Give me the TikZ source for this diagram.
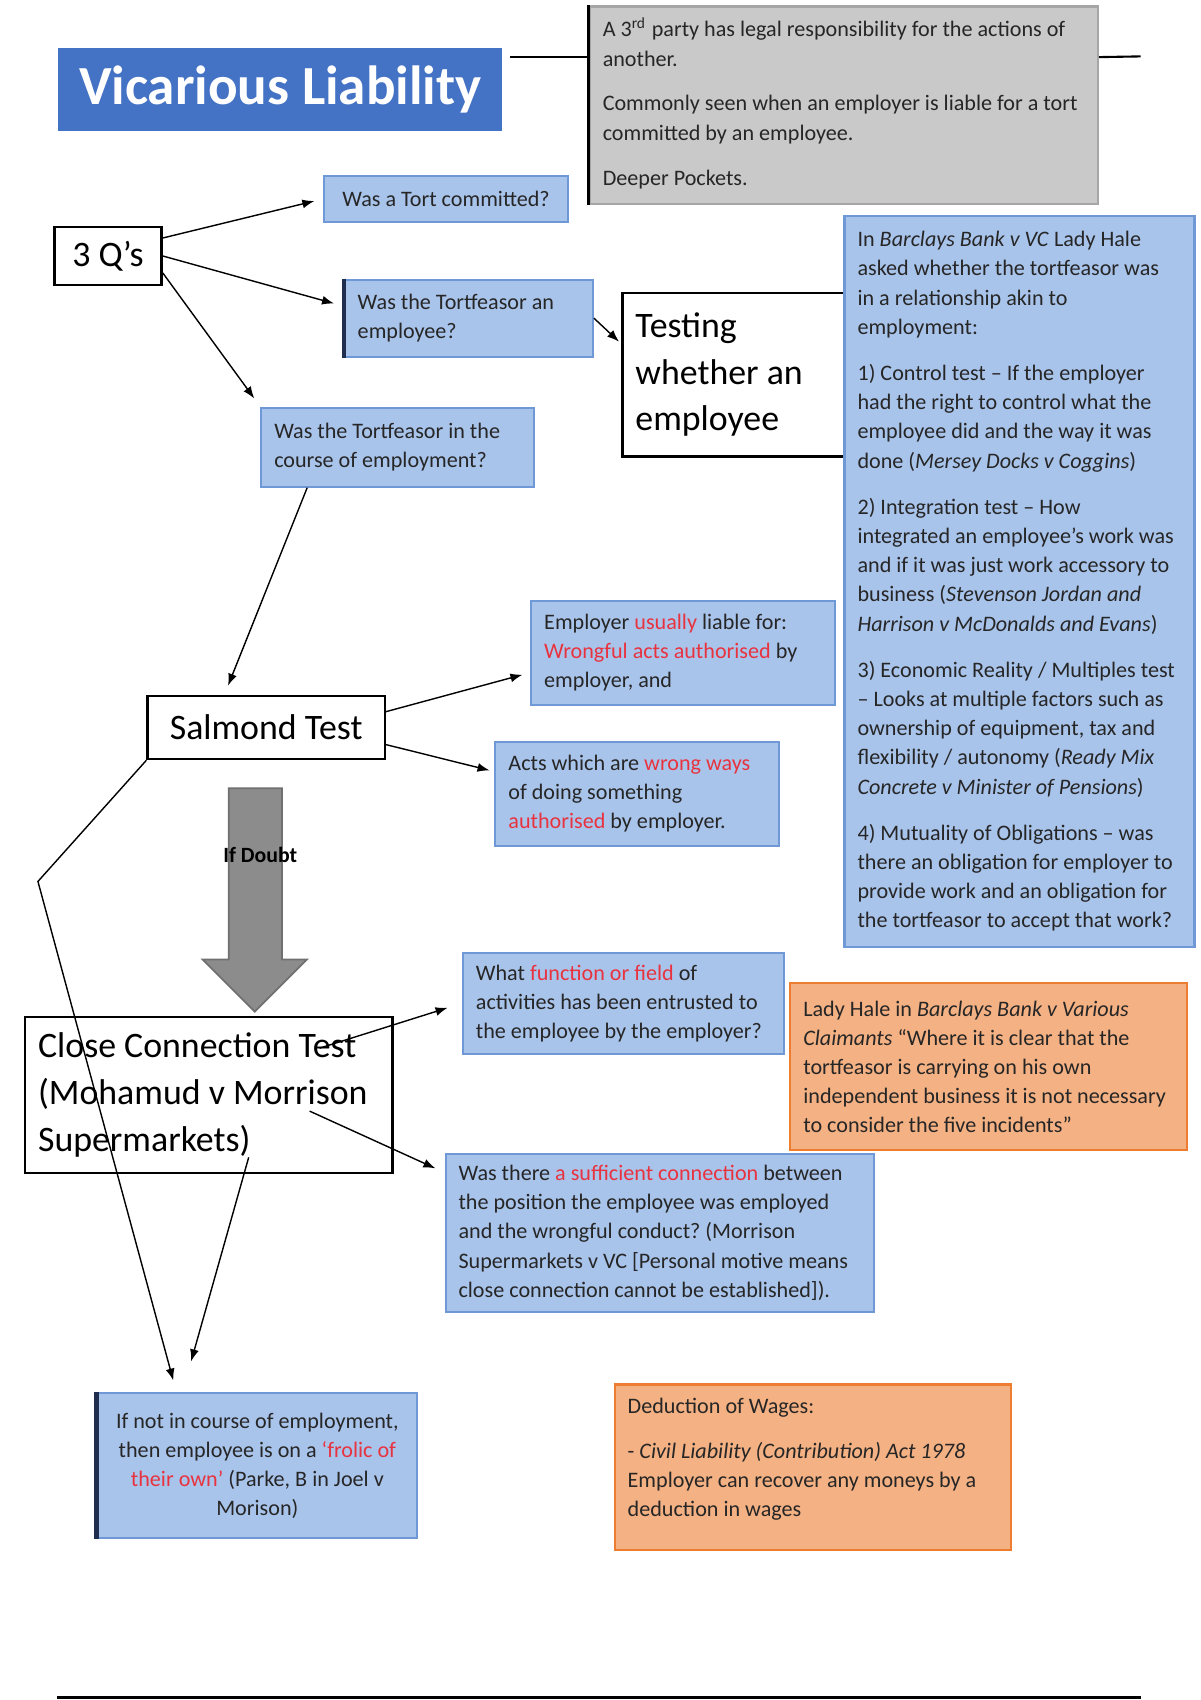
\documentclass[tikz,border=0pt]{standalone}
\usepackage{fontspec}
\setmainfont{Carlito}
\frenchspacing
\usetikzlibrary{arrows.meta}
\definecolor{titleblue}{HTML}{4472C4}
\definecolor{boxblue}{HTML}{A9C4EB}
\definecolor{boxblueline}{HTML}{6F98D6}
\definecolor{boxgrey}{HTML}{C9C9C9}
\definecolor{boxgreyline}{HTML}{A6A6A6}
\definecolor{boxorange}{HTML}{F4B183}
\definecolor{boxorangeline}{HTML}{ED7D31}
\definecolor{edgenavy}{HTML}{1F2D4F}
\definecolor{hlred}{HTML}{E8333F}
\definecolor{arrowgrey}{HTML}{8C8C8C}
\newcommand{\redtxt}[1]{\textcolor{hlred}{#1}}
\begin{document}
\begin{tikzpicture}[x=0.010842cm,y=-0.010842cm,
      smalltxt/.style={font=\fontsize{6.3}{8.3}\selectfont,text=black!85},
      bigtxt/.style={font=\fontsize{10.2}{13.3}\selectfont},
      bluebox/.style={smalltxt,anchor=north west,draw=boxblueline,fill=boxblue,
        line width=0.6pt,inner xsep=0.13cm,align=flush left},
      greybox/.style={smalltxt,anchor=north west,draw=boxgreyline,fill=boxgrey,
        line width=0.6pt,inner xsep=0.13cm,align=flush left},
      orangebox/.style={smalltxt,anchor=north west,draw=boxorangeline,fill=boxorange,
        line width=0.6pt,inner xsep=0.13cm,align=flush left},
      plainbox/.style={bigtxt,anchor=north west,draw,fill=white,
        line width=0.7pt,inner xsep=0.13cm,align=flush left},
      arr/.style={-{Latex[length=1.2mm,width=0.9mm]},line width=0.4pt}]
      \useasboundingbox (0,0) rectangle (1107,1568);
      \path (53,44) node[anchor=north west,fill=titleblue,minimum width=4.445cm,
        minimum height=0.824cm,text=white,
        font=\fontsize{15.7}{19}\selectfont\bfseries] (title) {Vicarious Liability};
      \path (543,5) node[greybox,text width=4.825cm,minimum height=1.973cm] (grey)
        {A 3\smash{\textsuperscript{rd}} party has legal responsibility for the actions of\\
        another.\\[4.5pt]
        Commonly seen when an employer is liable for a tort\\
        committed by an employee.\\[4.5pt]
        Deeper Pockets.};
      \draw[line width=1pt] (grey.north west) -- (grey.south west);
      \path ([xshift=0.07cm,yshift=0.325cm]title.east) coordinate (tl);
      \path (1052,52) coordinate (tr);
      \draw[line width=0.6pt] (tl) -- (tl -| grey.west);
      \draw[line width=0.6pt] (tl -| grey.east) -- (tr);
      \path (298,161) node[bluebox,minimum width=2.439cm,minimum height=0.466cm] (tort)
        {Was a Tort committed?};
      \path (49,208) node[plainbox,minimum width=1.073cm,minimum height=0.585cm] (q3)
        {3 Q’s};
      \path (317,257) node[bluebox,text width=2.223cm,minimum height=0.770cm] (empq)
        {Was the Tortfeasor an\\ employee?};
      \draw[edgenavy,line width=1.2pt] (empq.north west) -- (empq.south west);
      \path (573,269) node[plainbox,text width=1.963cm,minimum height=1.637cm] (testing)
        {Testing\\ whether an\\ employee};
      \path (778,198) node[bluebox,text width=3.242cm,minimum height=7.318cm] (hale)
        {In \textit{Barclays Bank v VC} Lady Hale\\
        asked whether the tortfeasor was\\
        in a relationship akin to\\
        employment:\\[4.9pt]
        1) Control test – If the employer\\
        had the right to control what the\\
        employee did and the way it was\\
        done (\textit{Mersey Docks v Coggins})\\[4.9pt]
        2) Integration test – How\\
        integrated an employee’s work was\\
        and if it was just work accessory to\\
        business (\textit{Stevenson Jordan and}\\
        \textit{Harrison v McDonalds and Evans})\\[4.9pt]
        3) Economic Reality / Multiples test\\
        – Looks at multiple factors such as\\
        ownership of equipment, tax and\\
        flexibility / autonomy (\textit{Ready Mix}\\
        \textit{Concrete v Minister of Pensions})\\[4.9pt]
        4) Mutuality of Obligations – was\\
        there an obligation for employer to\\
        provide work and an obligation for\\
        the tortfeasor to accept that work?};
      \path (240,375) node[bluebox,text width=2.472cm,minimum height=0.791cm] (course)
        {Was the Tortfeasor in the\\ course of employment?};
      \path (135,641) node[plainbox,minimum width=2.374cm,minimum height=0.629cm] (salmond)
        {Salmond Test};
      \path (489,553) node[bluebox,text width=2.776cm,minimum height=1.041cm] (usually)
        {Employer \redtxt{usually} liable for:\\
        \redtxt{Wrongful acts authorised} by\\
        employer, and};
      \path (456,683) node[bluebox,text width=2.581cm,minimum height=1.041cm] (wrong)
        {Acts which are \redtxt{wrong ways}\\
        of doing something\\
        \redtxt{authorised} by employer.};
      \draw[draw=arrowgrey!80!black,fill=arrowgrey,line width=0.5pt]
        (211,727) -- (260,727) -- (260,885) -- (283,885) -- (235,933)
        -- (187,885) -- (211,885) -- cycle;
      \path (240,789) node[font=\fontsize{6.2}{7}\selectfont\bfseries] (doubt) {If Doubt};
      \path (426,878) node[bluebox,text width=2.949cm,minimum height=0.976cm] (func)
        {What \redtxt{function or field} of\\
        activities has been entrusted to\\
        the employee by the employer?};
      \path (728,906) node[orangebox,text width=3.708cm,minimum height=1.670cm] (ladyhale)
        {Lady Hale in \textit{Barclays Bank v Various}\\
        \textit{Claimants} “Where it is clear that the\\
        tortfeasor is carrying on his own\\
        independent business it is not necessary\\
        to consider the five incidents”};
      \path (22,937) node[plainbox,text width=3.415cm,minimum height=1.561cm] (close)
        {Close Connection Test\\ (Mohamud v Morrison\\ Supermarkets)};
      \path (410,1063) node[bluebox,text width=4.023cm,minimum height=1.561cm] (suff)
        {Was there \redtxt{a sufficient connection} between\\
        the position the employee was employed\\
        and the wrongful conduct? (Morrison\\
        Supermarkets v VC [Personal motive means\\
        close connection cannot be established]).};
      \path (89,1284) node[bluebox,align=flush center,text width=2.938cm,minimum height=1.453cm] (frolic)
        {If not in course of employment,\\
        then employee is on a \redtxt{‘frolic of}\\
        \redtxt{their own’} (Parke, B in Joel v\\
        Morison)};
      \draw[edgenavy,line width=1.2pt] (frolic.north west) -- (frolic.south west);
      \path (566,1276) node[orangebox,text width=3.708cm,minimum height=1.659cm] (wages)
        {Deduction of Wages:\\[4.5pt]
        - \textit{Civil Liability (Contribution) Act 1978}\\
        Employer can recover any moneys by a\\
        deduction in wages\rule[-0.2cm]{0pt}{0.2cm}};
      \path (35,813) coordinate (bend);
      \path (53,1566) coordinate (basel);
      \path (1052,1566) coordinate (baser);
      \draw[arr,shorten >=0.09cm] ([yshift=0.18cm]q3.east) -- (tort.west);
      \draw[arr,shorten >=0.1cm] (q3.east) -- ([yshift=0.12cm]empq.west);
      \draw[arr,shorten >=0.1cm] ([yshift=-0.17cm]q3.east) -- (course.north west);
      \draw[arr,shorten >=0.03cm] (empq.east) -- ([yshift=0.31cm]testing.west);
      \draw[arr,shorten >=0.1cm] ([xshift=0.47cm]course.south west)
        -- ([xshift=0.78cm]salmond.north west);
      \draw[arr,shorten >=0.08cm] ([yshift=0.16cm]salmond.east)
        -- ([yshift=-0.2cm]usually.west);
      \draw[arr,shorten >=0.05cm] ([yshift=-0.17cm]salmond.east)
        -- ([yshift=0.22cm]wrong.west);
      \draw[arr,shorten >=0.12cm] (salmond.south west) -- (bend)
        -- ([xshift=0.8cm]frolic.north west);
      \draw[arr,shorten >=0.15cm] ([xshift=-0.74cm,yshift=0.47cm]close.east) -- (func.west);
      \draw[arr,shorten >=0.1cm] ([xshift=-0.84cm,yshift=-0.16cm]close.east)
        -- ([yshift=-0.2cm]suff.north west);
      \draw[arr,shorten >=0.32cm] ([xshift=0.4cm,yshift=0.17cm]close.south)
        -- ([xshift=0.86cm]frolic.north west);
      \draw[line width=0.8pt] (basel) -- (baser);
     \end{tikzpicture}
\end{document}
